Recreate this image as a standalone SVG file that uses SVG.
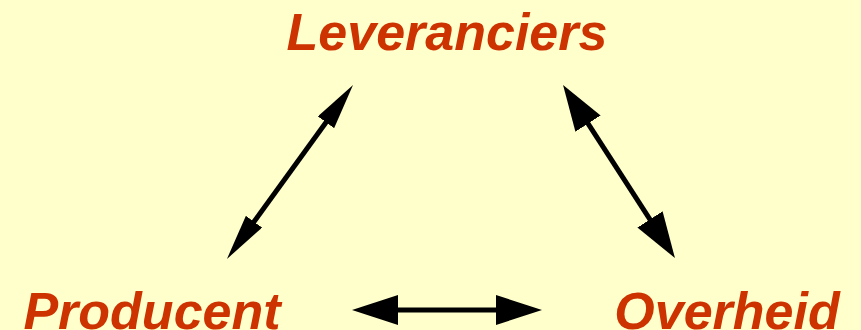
<svg xmlns="http://www.w3.org/2000/svg" width="861" height="330" viewBox="0 0 861 330">
  <style>
    .lbl { font-family: "Liberation Sans", Arial, sans-serif; font-weight: bold; font-style: italic; font-size: 52px; fill: #CC3300; text-anchor: middle; }
    .conn { stroke: #000; stroke-width: 5; fill: none; }
  </style>
  <defs>
    <marker id="headW" markerUnits="userSpaceOnUse" markerWidth="46" markerHeight="30" refX="10" refY="15" orient="auto-start-reverse" viewBox="0 0 46 30">
      <path d="M0,0 L46,15 L0,30 Z" fill="#000"/>
    </marker>
    <marker id="headN" markerUnits="userSpaceOnUse" markerWidth="46" markerHeight="20" refX="10" refY="10" orient="auto-start-reverse" viewBox="0 0 46 20">
      <path d="M0,0 L46,10 L0,20 Z" fill="#000"/>
    </marker>
  </defs>
  <rect x="0" y="0" width="861" height="330" fill="#FFFFCC"/>
  <g id="connectors">
    <line class="conn" x1="248.1" y1="229.8" x2="331.9" y2="114.2" marker-start="url(#headN)" marker-end="url(#headN)"/>
    <line class="conn" x1="582.6" y1="115.2" x2="655.4" y2="227.8" marker-start="url(#headW)" marker-end="url(#headW)"/>
    <line class="conn" x1="388" y1="310" x2="506" y2="310" marker-start="url(#headW)" marker-end="url(#headW)"/>
  </g>
  <g id="leveranciers"><text class="lbl" x="447" y="49.5">Leveranciers</text></g>
  <g id="producent"><text class="lbl" x="152" y="329">Producent</text></g>
  <g id="overheid"><text class="lbl" x="727" y="329">Overheid</text></g>
</svg>
